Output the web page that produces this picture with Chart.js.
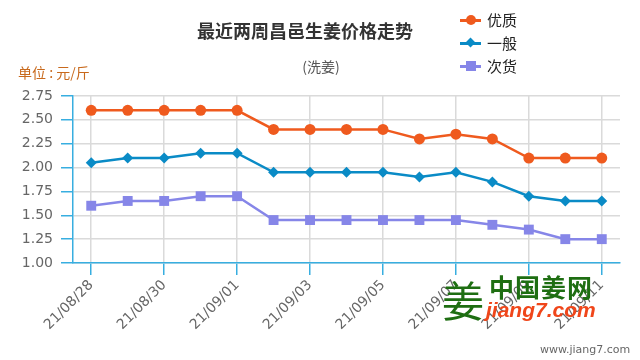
<!DOCTYPE html>
<html>
<head>
<meta charset="utf-8">
<script src="https://cdn.jsdelivr.net/npm/chart.js@4/dist/chart.umd.min.js"></script>
<style>
  html, body { margin: 0; padding: 0; background: #fff; }
  #wrap { position: relative; width: 640px; height: 360px; overflow: hidden; }
  canvas { position: absolute; left: 0; top: 0; }
  .t { position: absolute; white-space: nowrap; font-family: "Noto Sans CJK SC", "Noto Sans", sans-serif; }
  #title { left: 305px; top: 30px; transform: translate(-50%, -50%); font-size: 18px; font-weight: bold; color: #333; }
  #sub { left: 321px; top: 66px; transform: translate(-50%, -50%); font-size: 14px; color: #555; }
  #unit { left: 18px; top: 72px; transform: translateY(-50%); font-size: 14px; color: #c8691c; }
  .leg { position: absolute; left: 460px; width: 100px; height: 20px; }
  .leg .ln { position: absolute; left: 0; top: 9px; width: 21px; height: 3px; }
  .leg .mk { position: absolute; }
  .leg .lb { position: absolute; left: 27px; top: 0; line-height: 20px; font-size: 15px; color: #222; font-family: "Noto Sans CJK SC", sans-serif; }
  #wm1 { left: 489px; top: 286px; transform: translateY(-50%); font-size: 25px; font-weight: bold; color: #1e6e12; letter-spacing: 1px; }
  #wm2 { left: 486px; top: 310px; transform: translateY(-50%); font-size: 21px; font-weight: bold; font-style: italic; color: #f0461a; font-family: "Liberation Sans", sans-serif; }
  #wm0 { left: 442px; top: 298px; transform: translateY(-50%); font-size: 42px; font-weight: normal; color: #1e6e12; }
  #wm3 { left: 540px; top: 349px; transform: translateY(-50%); font-size: 11px; color: #666; font-family: "DejaVu Sans", sans-serif; }
</style>
</head>
<body>
<div id="wrap">
  <canvas id="c" width="640" height="360"></canvas>
  <div class="t" id="title">最近两周昌邑生姜价格走势</div>
  <div class="t" id="sub">(洗姜)</div>
  <div class="t" id="unit">单位 : 元/斤</div>
  <div id="legend"></div>
  <div class="t" id="wm0">姜</div>
  <div class="t" id="wm1">中国姜网</div>
  <div class="t" id="wm2">jiang7.com</div>
  <div class="t" id="wm3">www.jiang7.com</div>
</div>
<script>
const categories = ["21/08/28","21/08/29","21/08/30","21/08/31","21/09/01","21/09/02","21/09/03","21/09/04","21/09/05","21/09/06","21/09/07","21/09/08","21/09/09","21/09/10","21/09/11"];
const seriesNames = ["优质","一般","次货"];
const youzhi = [2.60,2.60,2.60,2.60,2.60,2.40,2.40,2.40,2.40,2.30,2.35,2.30,2.10,2.10,2.10];
const yiban  = [2.05,2.10,2.10,2.15,2.15,1.95,1.95,1.95,1.95,1.90,1.95,1.85,1.70,1.65,1.65];
const cihuo  = [1.60,1.65,1.65,1.70,1.70,1.45,1.45,1.45,1.45,1.45,1.45,1.40,1.35,1.25,1.25];
const yTicks = [1.00,1.25,1.50,1.75,2.00,2.25,2.50,2.75];

const colors = ["#ef5a1e", "#0a8bc6", "#8686e8"];
const styles = ["circle", "rectRot", "rect"];
const radii = [5.5, 5.5, 7];

// HTML legend
const legend = document.getElementById('legend');
const legTops = [10, 33, 56];
seriesNames.forEach((n, i) => {
  const d = document.createElement('div');
  d.className = 'leg';
  d.style.top = legTops[i] + 'px';
  const ln = document.createElement('div'); ln.className = 'ln'; ln.style.background = colors[i];
  const mk = document.createElement('div'); mk.className = 'mk'; mk.style.background = colors[i];
  if (i === 0) { mk.style.cssText += 'left:6px;top:5px;width:10px;height:10px;border-radius:50%;'; }
  if (i === 1) { mk.style.cssText += 'left:7px;top:6px;width:7px;height:7px;transform:rotate(45deg);'; }
  if (i === 2) { mk.style.cssText += 'left:6px;top:5px;width:10px;height:10px;'; }
  const lb = document.createElement('div'); lb.className = 'lb'; lb.textContent = n;
  d.appendChild(ln); d.appendChild(mk); d.appendChild(lb);
  legend.appendChild(d);
});

const axisBlue = '#38aee0';
const gridGray = '#dadada';

new Chart(document.getElementById('c'), {
  type: 'line',
  data: {
    labels: categories,
    datasets: [youzhi, yiban, cihuo].map((d, i) => ({
      label: seriesNames[i],
      data: d,
      borderColor: colors[i],
      backgroundColor: colors[i],
      borderWidth: 2.5,
      pointStyle: styles[i],
      pointRadius: radii[i],
      pointHoverRadius: radii[i],
      pointBorderWidth: 0,
      tension: 0,
      fill: false
    }))
  },
  options: {
    responsive: false,
    animation: false,
    devicePixelRatio: 1,
    layout: { padding: { top: 96, right: 20, left: 0, bottom: 0 } },
    plugins: { legend: { display: false }, title: { display: false }, tooltip: { enabled: false } },
    scales: {
      x: {
        type: 'category',
        offset: true,
        afterFit: s => { s.height = 97; },
        grid: {
          offset: false,
          color: ctx => (ctx.index % 2 === 0 ? gridGray : 'rgba(0,0,0,0)'),
          tickColor: ctx => (ctx.index % 2 === 0 ? axisBlue : 'rgba(0,0,0,0)'),
          lineWidth: 1.5,
          tickLength: 12,
          drawTicks: true
        },
        border: { color: axisBlue, width: 1.5 },
        ticks: {
          autoSkip: false,
          maxRotation: 45,
          minRotation: 45,
          padding: 2,
          color: '#666',
          font: { family: 'DejaVu Sans', size: 14 },
          callback: (v, i) => (i % 2 === 0 ? categories[i] : '')
        }
      },
      y: {
        min: 1,
        max: 2.75,
        afterFit: s => { s.width = 73; },
        afterBuildTicks: s => { s.ticks = yTicks.map(v => ({ value: v })); },
        grid: { color: gridGray, tickColor: axisBlue, lineWidth: 1.5, tickLength: 12 },
        border: { color: axisBlue, width: 1.5 },
        ticks: {
          padding: 8,
          color: '#666',
          font: { family: 'DejaVu Sans', size: 14 },
          callback: v => Number(v).toFixed(2)
        }
      }
    }
  }
});
</script>
</body>
</html>
